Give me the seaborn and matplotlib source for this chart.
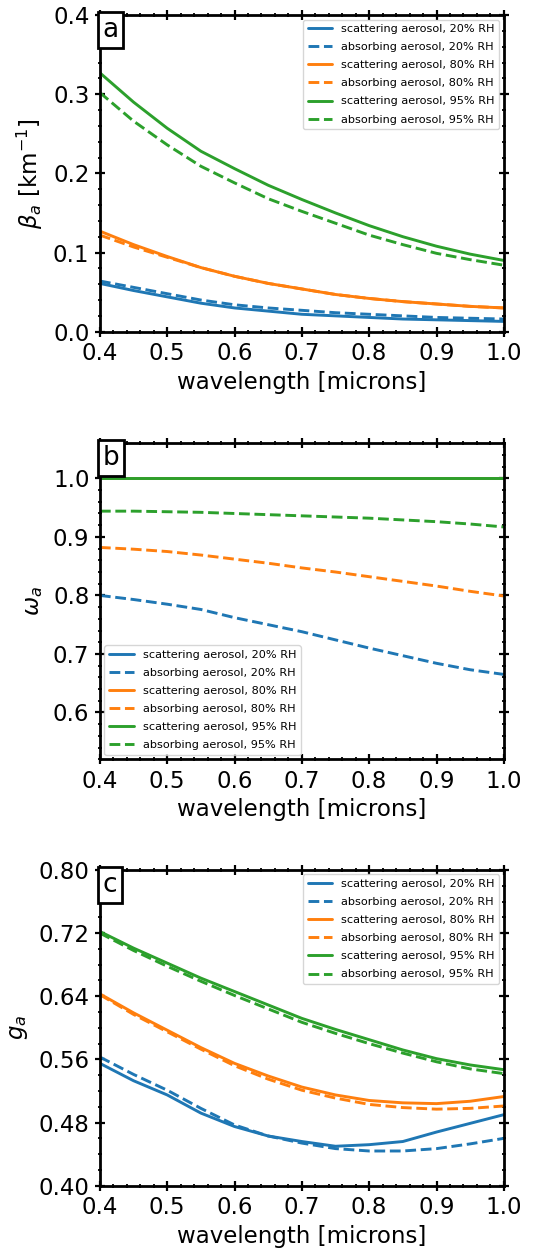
import matplotlib
matplotlib.use('Agg')
import matplotlib.pyplot as plt
import seaborn as sns
import pandas as pd
from matplotlib.ticker import MultipleLocator

wavelength = [0.40, 0.45, 0.50, 0.55, 0.60, 0.65, 0.70, 0.75, 0.80, 0.85, 0.90, 0.95, 1.00]

labels = ['scattering aerosol, 20% RH', 'absorbing aerosol, 20% RH',
          'scattering aerosol, 80% RH', 'absorbing aerosol, 80% RH',
          'scattering aerosol, 95% RH', 'absorbing aerosol, 95% RH']

# extinction coefficient [km^-1]
beta_scat_20 = [0.061, 0.052, 0.044, 0.036, 0.030, 0.026, 0.022, 0.020, 0.018, 0.016, 0.015, 0.014, 0.013]
beta_abs_20 = [0.064, 0.056, 0.048, 0.040, 0.034, 0.030, 0.027, 0.024, 0.022, 0.020, 0.018, 0.017, 0.016]
beta_scat_80 = [0.127, 0.110, 0.095, 0.081, 0.070, 0.061, 0.054, 0.047, 0.042, 0.038, 0.035, 0.032, 0.030]
beta_abs_80 = [0.122, 0.107, 0.094, 0.081, 0.070, 0.061, 0.054, 0.047, 0.042, 0.038, 0.035, 0.032, 0.030]
beta_scat_95 = [0.327, 0.290, 0.257, 0.228, 0.206, 0.185, 0.167, 0.150, 0.134, 0.120, 0.108, 0.098, 0.090]
beta_abs_95 = [0.302, 0.266, 0.236, 0.209, 0.188, 0.168, 0.152, 0.137, 0.122, 0.110, 0.099, 0.091, 0.084]

# single scattering albedo
omega_scat_20 = [1.0] * 13
omega_abs_20 = [0.800, 0.793, 0.785, 0.776, 0.762, 0.750, 0.738, 0.724, 0.710, 0.697, 0.684, 0.673, 0.665]
omega_scat_80 = [1.0] * 13
omega_abs_80 = [0.882, 0.879, 0.875, 0.869, 0.862, 0.855, 0.847, 0.840, 0.832, 0.824, 0.816, 0.807, 0.799]
omega_scat_95 = [1.0] * 13
omega_abs_95 = [0.944, 0.944, 0.943, 0.942, 0.940, 0.938, 0.936, 0.934, 0.932, 0.929, 0.926, 0.922, 0.917]

# asymmetry parameter
g_scat_20 = [0.555, 0.533, 0.515, 0.492, 0.475, 0.463, 0.456, 0.450, 0.452, 0.456, 0.468, 0.479, 0.490]
g_abs_20 = [0.563, 0.541, 0.521, 0.498, 0.477, 0.463, 0.454, 0.447, 0.444, 0.444, 0.447, 0.453, 0.460]
g_scat_80 = [0.643, 0.619, 0.597, 0.575, 0.555, 0.539, 0.525, 0.515, 0.508, 0.505, 0.504, 0.507, 0.513]
g_abs_80 = [0.642, 0.617, 0.595, 0.573, 0.552, 0.535, 0.521, 0.511, 0.503, 0.499, 0.497, 0.498, 0.501]
g_scat_95 = [0.722, 0.701, 0.682, 0.663, 0.646, 0.629, 0.612, 0.598, 0.585, 0.572, 0.561, 0.553, 0.547]
g_abs_95 = [0.720, 0.698, 0.678, 0.659, 0.641, 0.624, 0.607, 0.593, 0.580, 0.568, 0.557, 0.548, 0.542]

colors = ['#1f77b4', '#1f77b4', '#ff7f0e', '#ff7f0e', '#2ca02c', '#2ca02c']
styles = ['-', '--', '-', '--', '-', '--']

sns.set_style('ticks')
plt.rcParams['font.family'] = ['DejaVu Sans']
plt.rcParams['mathtext.fontset'] = 'dejavusans'
for key in ['text.color', 'axes.labelcolor', 'xtick.color', 'ytick.color', 'axes.edgecolor']:
    plt.rcParams[key] = 'black'

fig = plt.figure(figsize=(5.4, 12.55), dpi=100)
left, width = 0.185, 0.748
ax_a = fig.add_axes([left, 0.7357, width, 0.2523])
ax_b = fig.add_axes([left, 0.3950, width, 0.2518])
ax_c = fig.add_axes([left, 0.0552, width, 0.2516])

panels = [
    (ax_a, [beta_scat_20, beta_abs_20, beta_scat_80, beta_abs_80, beta_scat_95, beta_abs_95],
     r'$\beta_a$ [km$^{-1}$]', (0.0, 0.4), 0.1, 'a', 'upper right'),
    (ax_b, [omega_scat_20, omega_abs_20, omega_scat_80, omega_abs_80, omega_scat_95, omega_abs_95],
     r'$\omega_a$', (0.52, 1.06), 0.1, 'b', 'lower left'),
    (ax_c, [g_scat_20, g_abs_20, g_scat_80, g_abs_80, g_scat_95, g_abs_95],
     r'$g_a$', (0.40, 0.80), 0.08, 'c', 'upper right'),
]

for ax, series, ylabel, ylim, ymajor, letter, loc in panels:
    for vals, lab, col, ls in zip(series, labels, colors, styles):
        df = pd.DataFrame({'wavelength': wavelength, 'value': vals})
        sns.lineplot(data=df, x='wavelength', y='value', ax=ax, color=col,
                     linestyle=ls, linewidth=2.1, label=lab)
    ax.set_xlim(0.4, 1.0)
    ax.set_ylim(*ylim)
    ax.xaxis.set_major_locator(MultipleLocator(0.1))
    ax.xaxis.set_minor_locator(MultipleLocator(0.02))
    ax.yaxis.set_major_locator(MultipleLocator(ymajor))
    ax.yaxis.set_minor_locator(MultipleLocator(0.02))
    ax.tick_params(which='major', direction='inout', length=7, width=1.6,
                   top=True, right=True, labelsize=16.5, pad=4)
    ax.tick_params(which='minor', direction='inout', length=3.5, width=1.3,
                   top=True, right=True)
    for sp in ax.spines.values():
        sp.set_linewidth(2)
    ax.set_xlabel('wavelength [microns]', fontsize=16.5)
    ax.set_ylabel(ylabel, fontsize=16.5, labelpad=6)
    ax.legend(loc=loc, fontsize=8.1, frameon=True, handlelength=2.2,
              labelspacing=0.72, borderaxespad=0.4)
    ax.text(0.006, 0.994, letter, transform=ax.transAxes, ha='left', va='top',
            fontsize=19, zorder=10,
            bbox=dict(boxstyle='square,pad=0.18', fc='white', ec='black', lw=2))

fig.savefig('out.png', dpi=100)
